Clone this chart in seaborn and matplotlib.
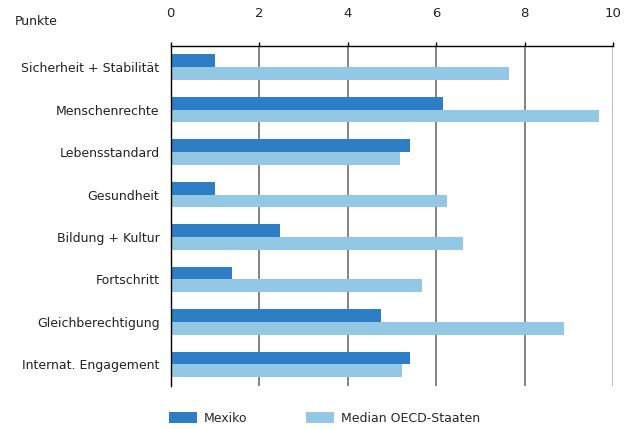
import numpy as np
import pandas as pd
import matplotlib
matplotlib.use("Agg")
import matplotlib.pyplot as plt
import matplotlib.ticker as mtick
from matplotlib.patches import Patch
import seaborn as sns

# Werte (Punkte 0-10)
kategorien = ["Sicherheit + Stabilität", "Menschenrechte", "Lebensstandard",
              "Gesundheit", "Bildung + Kultur", "Fortschritt",
              "Gleichberechtigung", "Internat. Engagement"]
mexiko = [1.0, 6.15, 5.40, 1.0, 2.47, 1.38, 4.75, 5.41]
oecd_median = [7.64, 9.69, 5.19, 6.24, 6.61, 5.69, 8.89, 5.23]
serien = ["Mexiko", "Median OECD-Staaten"]
farben = ["#2e7ec6", "#93c8e4"]
x_ticks = [0, 2, 4, 6, 8, 10]

df = pd.DataFrame({
    "Kategorie": kategorien * 2,
    "Punkte": mexiko + oecd_median,
    "Serie": [serien[0]] * len(kategorien) + [serien[1]] * len(kategorien),
})

sns.set_style("white")
plt.rcParams["font.family"] = ["DejaVu Sans"]

fig = plt.figure(figsize=(6.34, 4.29), dpi=100)
ax = fig.add_axes([0.269, 0.101, 0.698, 0.792])

sns.barplot(data=df, x="Punkte", y="Kategorie", hue="Serie", orient="h",
            palette=farben, width=0.6, saturation=1, legend=False,
            linewidth=0, edgecolor="none", gap=0, ax=ax)

ax.set_xlim(0, 10)
ax.set_ylim(len(kategorien) - 0.5, -0.5)
ax.xaxis.set_ticks_position("top")
ax.xaxis.set_label_position("top")
ax.set_xticks(x_ticks)
ax.set_xticklabels([str(t) for t in x_ticks], fontsize=9.5, color="#222222")
ax.tick_params(axis="x", direction="out", length=3, width=1, color="black", pad=16)
ax.set_xlabel("")
ax.set_ylabel("")

ax.set_yticks(range(len(kategorien)))
ax.set_yticklabels(kategorien, fontsize=9, color="#222222")
ax.yaxis.set_minor_locator(mtick.FixedLocator(np.arange(-0.5, len(kategorien), 1)))
ax.tick_params(axis="y", which="major", length=0, pad=8)
ax.tick_params(axis="y", which="minor", length=4, width=1, color="black")

# senkrechte Gitterlinien, die letzte heller
for v in x_ticks[1:]:
    ax.axvline(v, color="#6e6e6e" if v < 10 else "#b0b0b0", lw=1.2, zorder=0)

for s in ["right", "bottom"]:
    ax.spines[s].set_visible(False)
ax.spines["top"].set_color("black")
ax.spines["left"].set_color("black")
ax.spines["top"].set_linewidth(1)
ax.spines["left"].set_linewidth(1)

fig.text(0.024, 0.95, "Punkte", fontsize=9, color="#222222", va="center")

handles = [Patch(facecolor=f, edgecolor="none") for f in farben]
fig.legend(handles, serien, loc="center left", bbox_to_anchor=(0.249, 0.025),
           ncol=2, frameon=False, fontsize=9, handlelength=2.2, handleheight=1.0,
           columnspacing=4.7, handletextpad=0.6)

fig.savefig("out.png", dpi=100)
